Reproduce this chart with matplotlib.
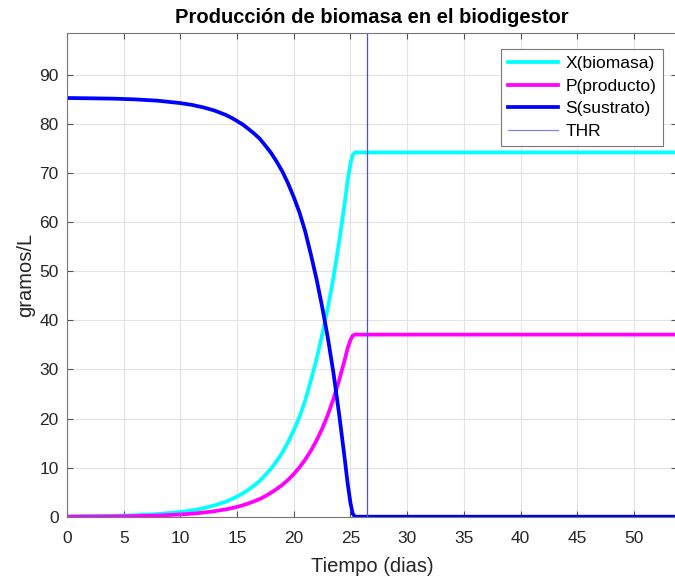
import matplotlib
matplotlib.use("Agg")
import matplotlib.pyplot as plt

plt.rcParams["font.family"] = ["Liberation Sans", "DejaVu Sans"]

# tiempo (dias) y concentraciones
t = [0, 2, 4, 6, 8, 10, 11, 12, 13, 14, 14.5, 15, 15.5, 16, 16.5, 17, 17.5, 18,
     18.5, 19, 19.5, 20, 20.5, 21, 21.5, 22, 22.5, 23, 23.5, 24, 24.5, 24.75,
     25, 25.2, 25.4, 26, 30, 35, 40, 45, 50, 54]
X = [0.06, 0.11, 0.17, 0.30, 0.54, 0.96, 1.28, 1.71, 2.29, 3.06, 3.55, 4.1,
     4.75, 5.5, 6.35, 7.3, 8.5, 9.8, 11.35, 13.1, 15.2, 17.6, 20.3, 23.6, 27.7,
     32.0, 37.0, 42.5, 48.7, 56.0, 64.0, 68.5, 72.0, 73.7, 74.2, 74.2, 74.2,
     74.2, 74.2, 74.2, 74.2, 74.2]
P = [0, 0.03, 0.06, 0.12, 0.24, 0.45, 0.61, 0.83, 1.12, 1.5, 1.73, 2.0, 2.33,
     2.7, 3.13, 3.6, 4.2, 4.9, 5.65, 6.5, 7.52, 8.69, 10.05, 11.6, 13.4, 15.5,
     17.9, 20.7, 24.0, 27.8, 32.0, 34.3, 36.0, 36.9, 37.1, 37.1, 37.1, 37.1,
     37.1, 37.1, 37.1, 37.1]
S = [85.3, 85.24, 85.17, 85.02, 84.75, 84.26, 83.9, 83.4, 82.75, 81.85, 81.28,
     80.6, 79.9, 79.0, 78.06, 77.0, 75.59, 74.1, 72.31, 70.3, 67.88, 65.1, 62.0,
     58.2, 53.5, 48.5, 42.8, 36.5, 29.3, 20.9, 11.7, 6.8, 2.8, 0.6, 0.0, 0.0,
     0.0, 0.0, 0.0, 0.0, 0.0, 0.0]
thr = 26.5

fig = plt.figure(figsize=(6.75, 5.81), dpi=100)
ax = fig.add_axes([67 / 675, 64.3 / 581, 610 / 675, 483.5 / 581])

ax.plot(t, X, color="cyan", linewidth=2.7, label="X(biomasa)")
ax.plot(t, P, color="magenta", linewidth=2.7, label="P(producto)")
ax.plot(t, S, color="blue", linewidth=2.7, label="S(sustrato)")
ax.axvline(thr, color="#4a4aff", linewidth=0.9, label="THR")

ax.set_xlim(0, 53.8)
ax.set_ylim(0, 98.5)
ax.set_xticks(range(0, 55, 5))
ax.set_yticks(range(0, 100, 10))
ax.grid(True, color="#e3e3e3", linewidth=0.8)
ax.set_axisbelow(True)
ax.tick_params(direction="in", top=True, right=True, labelsize=12.5,
               colors="#555555", labelcolor="#262626", length=4)
ax.tick_params(axis="x", pad=10)
ax.tick_params(axis="y", pad=6)
for s in ax.spines.values():
    s.set_color("#777777")
    s.set_linewidth(0.8)

ax.set_title("Producción de biomasa en el biodigestor", fontsize=14.5,
             fontweight="bold", pad=7)
ax.set_xlabel("Tiempo (dias)", fontsize=14.5, color="#262626", labelpad=8)
ax.set_ylabel("gramos/L", fontsize=14.5, color="#262626", labelpad=3)

leg = ax.legend(loc="upper right", fontsize=12.5, framealpha=1, fancybox=False,
                edgecolor="#777777", handlelength=2.9, borderpad=0.4,
                labelspacing=0.42, handletextpad=0.4, borderaxespad=0,
                bbox_to_anchor=(0.977, 0.967))
leg.get_frame().set_linewidth(0.8)
leg.get_lines()[3].set_color("#8080ff")

fig.savefig("out.png", dpi=100)
